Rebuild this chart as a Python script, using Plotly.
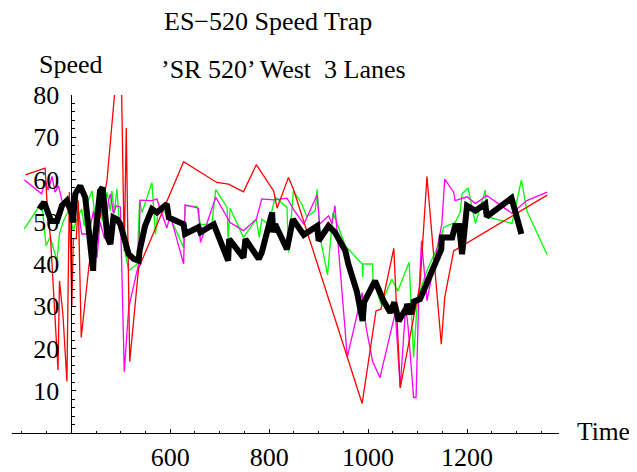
import plotly.graph_objects as go

# ---- data (time, speed) ----
red_t = [307, 347, 352, 358, 373, 376, 383, 391, 396, 401, 404, 410, 414, 420, 436, 460, 472, 491,
         501, 507, 511, 518, 536, 627, 694, 718, 748, 774, 809, 816, 839, 849, 988, 1016, 1026,
         1052, 1065, 1105, 1119, 1148, 1155, 1173, 1362]
red_v = [61.1, 62.7, 52, 46, 14.9, 36, 28, 12.2, 57, 30, 46, 46, 55, 22.6, 40, 52, 59.7, 85,
         85, 43, 72.2, 16.9, 39, 64.2, 59.3, 58.9, 57.1, 63.5, 57.3, 53.2, 60.5, 57.7, 7.0, 28.9, 29.3,
         43.7, 10.7, 35.2, 60.7, 21, 32.1, 43.1, 56.3]

green_t = [305, 340, 349, 357, 371, 376, 384, 394, 404, 411, 421, 426, 434, 442, 448, 455, 463, 472,
           479, 482, 487, 492, 497, 516, 533, 538, 543, 563, 570, 576, 597, 627, 630, 654, 661, 684,
           692, 715, 717, 721, 748, 774, 780, 785, 799, 809, 812, 836, 839, 849, 866, 876, 893, 897,
           903, 918, 929, 954, 988, 989, 990, 1009, 1010, 1026, 1048, 1060, 1083, 1092, 1100, 1119,
           1143, 1153, 1176, 1186, 1190, 1202, 1217, 1237, 1240, 1291, 1310, 1321, 1362]
green_v = [48.3, 54.6, 44.3, 46.4, 40.8, 47.2, 50.2, 52.6, 47.9, 50.5, 53, 49, 55, 57.3, 51, 56.6, 50, 57,
           52.6, 57.3, 52, 57.8, 50, 38.4, 40, 55, 52.2, 59.3, 47, 53, 51.8, 43.9, 53.8, 53.6, 49.4, 49.4,
           57.6, 53.4, 46, 53.2, 46.3, 50.6, 46.3, 50.6, 49.4, 53.8, 55.8, 53.4, 42.7, 57.3, 54.2, 51.2, 52.6, 57.7,
           46.3, 37.4, 52.2, 44.3, 40, 36.9, 40, 40, 36.4, 30.5, 36.4, 33.6, 40.4, 17.9, 32, 38.4,
           44.7, 48.7, 49.8, 52.2, 56.6, 58, 49.6, 57.5, 51.2, 49.6, 59.9, 52.6, 42.2]

magenta_t = [305, 340, 347, 353, 361, 367, 374, 381, 390, 398, 406, 414, 421, 435, 445, 452, 458, 467,
             475, 479, 485, 491, 499, 507, 516, 536, 539, 563, 573, 593, 600, 627, 630, 657, 661, 675,
             692, 721, 748, 774, 785, 809, 836, 849, 870, 897, 902, 920, 927, 933, 958, 988, 996, 1009,
             1024, 1055, 1065, 1076, 1081, 1092, 1097, 1102, 1108, 1119, 1149, 1155, 1173, 1176, 1200,
             1217, 1240, 1291, 1321, 1362]
magenta_v = [59.9, 56.6, 59.7, 57.5, 60.7, 57, 58.5, 55, 54, 52.5, 55, 53, 47.1, 47.1, 52.6, 41.5, 50, 46,
             55, 56.6, 52, 53.8, 53.5, 14.5, 29.7, 40, 55.1, 55, 55.4, 48.5, 51.5, 40, 54, 53.2, 45.1, 50,
             55.8, 49.8, 47.9, 50.6, 55.4, 55.2, 55.6, 53, 49.4, 56.4, 49.4, 51.4, 49.5, 53.8, 18, 33.2, 25, 17,
             13.1, 28.5, 10.7, 30, 25, 8.4, 8.4, 30.6, 45.5, 31.3, 49.4, 60.1, 57, 55, 55.9,
             54.3, 56.2, 52, 55, 57]

avg_t = [335, 345, 359, 371, 381, 391, 401, 403, 408, 418, 428, 438, 444, 446, 458, 463, 468, 473,
         479, 485, 493, 499, 516, 526, 536, 538, 549, 563, 573, 593, 597, 627, 630, 657, 661, 688,
         717, 719, 748, 752, 779, 785, 806, 808, 812, 836, 848, 870, 897, 900, 920, 933, 954, 960,
         977, 989, 992, 1014, 1031, 1045, 1053, 1062, 1072, 1075, 1079, 1087, 1092, 1105, 1148, 1149,
         1170, 1176, 1184, 1190, 1200, 1217, 1237, 1240, 1290, 1310]
avg_v = [53, 54.6, 50.2, 50.2, 53.8, 55, 51.9, 49.8, 56.6, 58.5, 55.8, 44.7, 38.4, 44, 57.3, 58.1, 52, 46.3,
         44.7, 51, 50.5, 49.4, 42.3, 41.2, 40.8, 43.1, 49, 53, 52.2, 54.2, 51, 49.4, 47.1, 48.7, 47.5, 49.4,
         40.8, 45.9, 41.5, 45.9, 41.2, 42.7, 52.2, 47.5, 49.4, 43.5, 50.6, 46.9, 49, 45.5, 49, 47.5, 43.1, 40,
         33.6, 26.5, 31, 36, 31.3, 28.5, 30.9, 26.5, 28.5, 28.1, 30.5, 28.1, 31.1, 31.7, 43.5, 46.3,
         46.3, 49, 49, 42.3, 53.8, 52.6, 54.2, 51.2, 55.6, 47.1]

x_ticks = [600, 800, 1000, 1200]
y_ticks = [10, 20, 30, 40, 50, 60, 70, 80]

FONT = "Liberation Serif"
FS = 26

fig = go.Figure()
fig.add_trace(go.Scatter(x=green_t, y=green_v, mode="lines", line=dict(color="#00FF00", width=1.3)))
fig.add_trace(go.Scatter(x=magenta_t, y=magenta_v, mode="lines", line=dict(color="#FF00FF", width=1.3)))
fig.add_trace(go.Scatter(x=red_t, y=red_v, mode="lines", line=dict(color="#FF0000", width=1.3)))
fig.add_trace(go.Scatter(x=avg_t, y=avg_v, mode="lines", line=dict(color="#000000", width=6)))

# page body has an 8px default margin: the figure is shrunk by 8px so it fits the window
X0, X1 = 280, 1386
fig.update_layout(
    template="none",
    width=629, height=464,
    margin=dict(l=4, r=78, t=87, b=39, pad=0),
    paper_bgcolor="white", plot_bgcolor="white",
    showlegend=False,
    font=dict(family=FONT, size=FS, color="black"),
    xaxis=dict(range=[X0, X1], showgrid=False, zeroline=False, showline=True, automargin=False,
               linecolor="black", linewidth=1, ticks="inside", ticklen=4, tickcolor="black",
               tickvals=x_ticks, ticktext=[str(v) for v in x_ticks],
               tickfont=dict(family=FONT, size=FS), ticklabelstandoff=1,
               minor=dict(dtick=50, tick0=0, ticks="inside", ticklen=2.5, tickcolor="black",
                          showgrid=False)),
    yaxis=dict(range=[0, 80], showgrid=False, zeroline=False, showline=True, automargin=False,
               linecolor="black", linewidth=1, ticks="inside", ticklen=4, tickcolor="black",
               anchor="free", position=(400 - X0) / (X1 - X0),
               tickvals=y_ticks, ticktext=[str(v) for v in y_ticks],
               tickfont=dict(family=FONT, size=FS), ticklabelstandoff=7,
               minor=dict(dtick=2, tick0=0, ticks="inside", ticklen=2.5, tickcolor="black",
                          showgrid=False)),
)

def ann(text, x, y, xanchor, size=FS):
    fig.add_annotation(text=text, xref="paper", yref="paper", x=x, y=y, xanchor=xanchor,
                       yanchor="middle", showarrow=False, borderpad=0,
                       font=dict(family=FONT, size=size))

W, H = 547.0, 338.0
ann("ES\u2212520 Speed Trap", (268 - 12) / W, (433 - 21) / H, "center")
ann("\u2019SR 520\u2019 West  3 Lanes", (160 - 12) / W, (433 - 70) / H, "left")
ann("Speed", (38 - 12) / W, (433 - 64) / H, "left")
ann("Time", (576 - 12) / W, (433 - 431) / H, "left", 25.5)

fig.write_html("out.html")
